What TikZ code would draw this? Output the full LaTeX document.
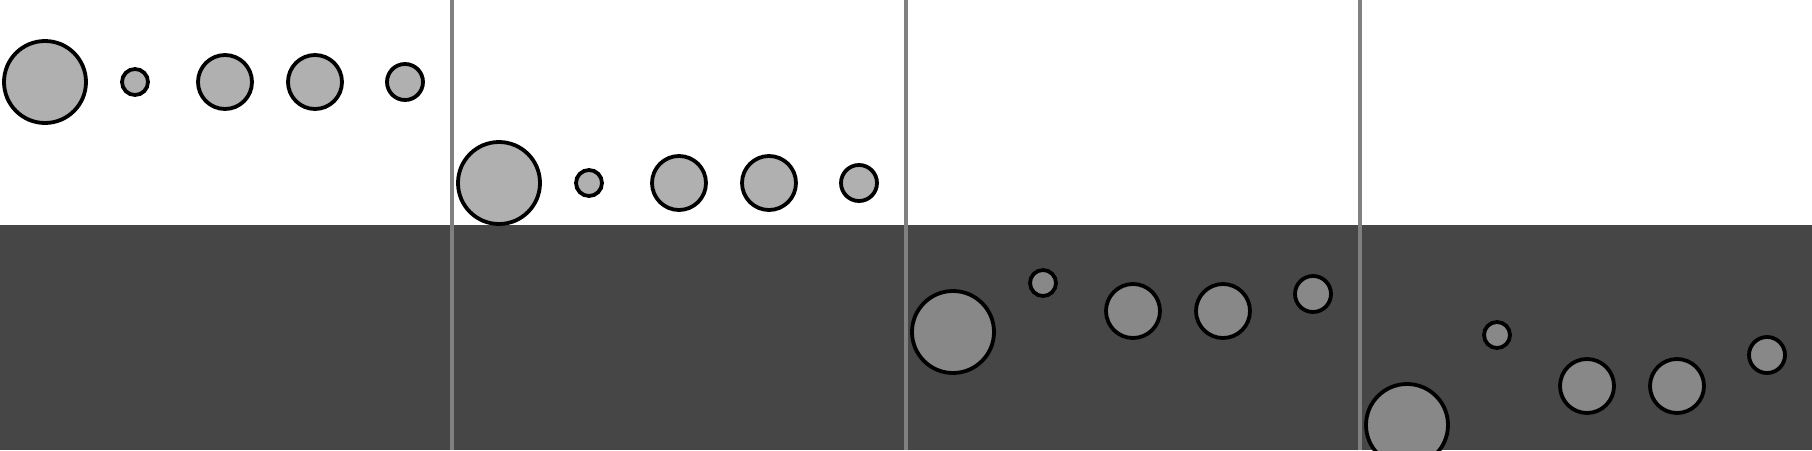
\documentclass[tikz,border=0pt]{standalone}
\usepackage{tikz}
\usetikzlibrary{positioning}
\definecolor{cBand}{HTML}{464646}
\definecolor{cBallLight}{HTML}{B0B0B0}
\definecolor{cBallDark}{HTML}{888888}
\definecolor{cRule}{HTML}{808080}

\begin{document}
\begin{tikzpicture}[x=1pt, y=-1pt,
    ball/.style={draw=black, line width=3.8pt},
    rule/.style={draw=cRule, line width=4pt}]
      \clip (0,0) rectangle (1812,450);
      \fill[white] (0,0) rectangle (1812,225);
      \fill[cBand] (0,225) rectangle (1812,450);
      % panel 1
      \filldraw[ball, fill=cBallLight] (45,82) circle (41pt);
      \filldraw[ball, fill=cBallLight] (135,82) circle (13pt);
      \filldraw[ball, fill=cBallLight] (225,82) circle (27pt);
      \filldraw[ball, fill=cBallLight] (315,82) circle (27pt);
      \filldraw[ball, fill=cBallLight] (405,82) circle (18pt);
      % panel 2
      \filldraw[ball, fill=cBallLight] (499,183) circle (41pt);
      \filldraw[ball, fill=cBallLight] (589,183) circle (13pt);
      \filldraw[ball, fill=cBallLight] (679,183) circle (27pt);
      \filldraw[ball, fill=cBallLight] (769,183) circle (27pt);
      \filldraw[ball, fill=cBallLight] (859,183) circle (18pt);
      % panel 3
      \filldraw[ball, fill=cBallDark] (953,332) circle (41pt);
      \filldraw[ball, fill=cBallDark] (1043,283) circle (13pt);
      \filldraw[ball, fill=cBallDark] (1133,311) circle (27pt);
      \filldraw[ball, fill=cBallDark] (1223,311) circle (27pt);
      \filldraw[ball, fill=cBallDark] (1313,294) circle (18pt);
      % panel 4
      \filldraw[ball, fill=cBallDark] (1407,425) circle (41pt);
      \filldraw[ball, fill=cBallDark] (1497,335) circle (13pt);
      \filldraw[ball, fill=cBallDark] (1587,386) circle (27pt);
      \filldraw[ball, fill=cBallDark] (1677,386) circle (27pt);
      \filldraw[ball, fill=cBallDark] (1767,355) circle (18pt);
      % separators
      \draw[rule] (452,0) -- (452,450);
      \draw[rule] (905.5,0) -- (905.5,450);
      \draw[rule] (1359.5,0) -- (1359.5,450);
    \end{tikzpicture}
\end{document}
